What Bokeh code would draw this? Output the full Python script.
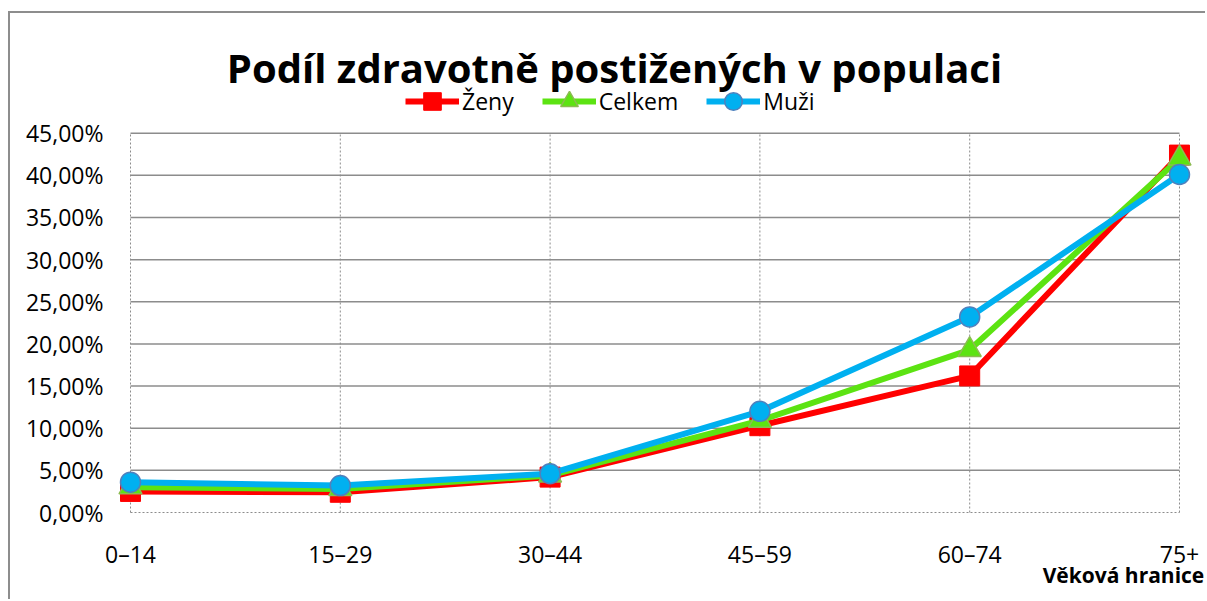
from bokeh.plotting import figure
from bokeh.models import (FixedTicker, CustomJSTickFormatter, Legend, LegendItem,
                          LinearAxis, Label)
from bokeh.embed import file_html
from bokeh.resources import INLINE

categories = ["0–14", "15–29", "30–44", "45–59", "60–74", "75+"]
zeny = [2.5, 2.4, 4.2, 10.3, 16.2, 42.4]
celkem = [3.0, 2.8, 4.4, 10.9, 19.3, 42.0]
muzi = [3.6, 3.2, 4.6, 12.0, 23.2, 40.1]
y_ticks = [0, 5, 10, 15, 20, 25, 30, 35, 40, 45]
title = "Podíl zdravotně postižených v populaci"
x_title = "Věková hranice"

FONT = "Open Sans"
xs = list(range(len(categories)))
n = len(categories) - 1

p = figure(width=1197, height=588, output_backend="svg", toolbar_location=None,
           title=None,
           x_range=(-0.0715, n + 0.1335), y_range=(-1.186, 59.2),
           min_border_left=105, min_border_right=0, min_border_bottom=79,
           min_border_top=0)
p.styles = {"border-left": "2px solid #8d8d8d", "border-top": "2px solid #8d8d8d",
            "margin-left": "8px", "margin-top": "11px"}
p.outline_line_color = None
p.background_fill_color = "white"
p.border_fill_color = "white"
p.grid.visible = False

# axes
p.xaxis.ticker = FixedTicker(ticks=xs)
p.xaxis.major_label_overrides = {i: c for i, c in enumerate(categories)}
p.xaxis.major_label_text_font = FONT
p.xaxis.major_label_text_font_size = "23px"
p.xaxis.major_label_text_color = "black"
p.xaxis.major_label_standoff = 9
p.xaxis.major_tick_line_color = None
p.xaxis.minor_tick_line_color = None
p.xaxis.axis_line_color = None

ax2 = LinearAxis(ticker=FixedTicker(ticks=[4.733]),
                 formatter=CustomJSTickFormatter(code="return '%s';" % x_title))
ax2.major_label_text_font = FONT
ax2.major_label_text_font_style = "bold"
ax2.major_label_text_font_size = "21px"
ax2.major_label_text_color = "black"
ax2.major_label_standoff = -18
ax2.major_tick_line_color = None
ax2.minor_tick_line_color = None
ax2.axis_line_color = None
p.add_layout(ax2, "below")

p.yaxis.ticker = FixedTicker(ticks=y_ticks)
p.yaxis.formatter = CustomJSTickFormatter(
    code="return tick.toFixed(2).replace('.', ',') + '%';")
p.yaxis.major_label_text_font = FONT
p.yaxis.major_label_text_font_size = "23px"
p.yaxis.major_label_text_color = "black"
p.yaxis.major_label_standoff = 6
p.yaxis.major_tick_line_color = None
p.yaxis.minor_tick_line_color = None
p.yaxis.axis_line_color = None

# plot-area lines (grid) limited to the data area
GRID = "#8c8c8c"
p.segment(x0=[0] * (len(y_ticks) - 1), x1=[n] * (len(y_ticks) - 1),
          y0=y_ticks[1:], y1=y_ticks[1:], line_color=GRID, line_width=1.5)
p.segment(x0=[0], x1=[n], y0=[y_ticks[0]], y1=[y_ticks[0]],
          line_color=GRID, line_width=1, line_dash="2 2")
p.segment(x0=xs, x1=xs, y0=[y_ticks[0]] * len(xs), y1=[y_ticks[-1]] * len(xs),
          line_color=GRID, line_width=1, line_dash="2 2")

# series
RED = "#ff0000"
GREEN = "#5ce312"
BLUE = "#00b0f0"

l1 = p.line(xs, zeny, line_color=RED, line_width=6)
m1 = p.scatter(xs, zeny, marker="square", size=20, fill_color=RED, line_color=RED)
l2 = p.line(xs, celkem, line_color=GREEN, line_width=6)
m2 = p.scatter(xs, celkem, marker="triangle", size=23, fill_color=GREEN,
               line_color="#8cbb52", line_width=1.5)
l3 = p.line(xs, muzi, line_color=BLUE, line_width=6)
m3 = p.scatter(xs, muzi, marker="circle", size=20, fill_color=BLUE,
               line_color="#4f81bd", line_width=1.5)

legend = Legend(items=[
    LegendItem(label="Ženy", renderers=[l1, m1]),
    LegendItem(label="Celkem", renderers=[l2, m2]),
    LegendItem(label="Muži", renderers=[l3, m3]),
], orientation="horizontal", location=(290, 399))
legend.label_text_font = FONT
legend.label_text_font_size = "23px"
legend.label_text_color = "black"
legend.glyph_width = 54
legend.glyph_height = 44
legend.label_standoff = 3
legend.spacing = 28
legend.padding = 0
legend.margin = 0
legend.border_line_color = None
legend.background_fill_alpha = 0
p.add_layout(legend)

p.add_layout(Label(x=2.307, y=52.8, text=title, text_font=FONT,
                   text_font_style="bold", text_font_size="40px",
                   text_color="black", text_align="center",
                   text_baseline="alphabetic"))

open("out.html", "w").write(file_html(p, INLINE))
